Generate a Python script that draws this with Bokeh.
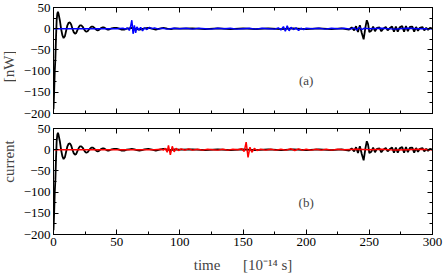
from bokeh.plotting import figure
from bokeh.layouts import column, row
from bokeh.models import Range1d, LinearAxis, SingleIntervalTicker, FixedTicker, Label
from bokeh.embed import file_html
from bokeh.resources import INLINE
import math

# ---- data ----
t_black = [0, 0.5, 1, 1.5, 2, 2.5, 3, 3.5, 4, 5, 6, 7, 8, 9, 10, 11, 12, 13, 14, 15,
           16, 17, 18, 19, 20, 21, 22, 23, 24, 25, 26, 27, 28, 29, 30, 31, 32, 33, 34,
           35, 36, 37, 38, 39, 40, 41, 42, 43, 44, 46, 48, 50, 52, 54, 56, 58, 60, 62,
           64, 66, 68, 70, 72, 75, 78, 81, 84, 87, 90, 93, 96, 100, 110, 120, 130, 140,
           150, 160, 170, 180, 190, 200, 210, 220, 228, 234, 236, 238, 239.5, 241,
           242.5, 244, 245.5, 247, 248, 249, 250, 251.5, 253, 254.5, 256, 258, 259.5,
           261, 263, 264.5, 266, 268, 269.5, 271, 272.5, 274, 276, 277.5, 279, 280.5,
           282, 284, 285.5, 287, 288.5, 290, 292, 293.5, 295, 296.5, 298, 300]
i_black = [-190, -150, -100, -70, -20, 20, 35, 40, 35, 20, 0, -15, -22, -18, -5, 8, 14, 15,
           10, 0, -8, -12, -10, -3, 4, 8, 8, 5, 0, -5, -7, -6, -2, 2, 5, 5, 3, 0, -3, -4,
           -3, 0, 2, 3, 3, 1, -1, -2, -2, 1, 2, 2, 0, -2, -2, 0, 1, 2, 1, -1, -2, -1, 1,
           2, 0, -2, 0, 2, 0, -1, 1, 0, 1, -1, 1, -1, 1, -1, 1, -1, 1, -1, 1, -1, 1, -2,
           3, -4, 6, -8, 8, -10, -25, 5, 20, 12, -8, -5, 5, -6, 2, 3, -6, 0, 4, -4, 1, 5,
           -7, 5, -7, 3, 6, -7, 6, -6, 4, 5, -7, 4, -5, 2, 4, -4, 2, -3, 2, 0]

t_blue = [0, 50, 55, 57, 58.5, 60, 61, 62, 63, 64, 65, 66, 67.5, 69, 70.5, 72, 74, 76, 78,
          80, 83, 86, 90, 95, 100, 105, 110, 115, 120, 125, 130, 135, 140, 145, 150, 155,
          160, 165, 170, 175, 178, 180, 182, 183.5, 185, 186.5, 188, 190, 192, 194, 196,
          198, 200, 205, 210, 215, 220, 225, 230, 235, 238, 240, 242, 244, 246, 250, 260,
          270, 280, 290, 300]
i_blue = [0, 0, 1, -1, 2, -4, 5, 20, -12, 8, -10, 4, -3, 3, -5, 2, -2, 3, 0, 2, -1, 1, -1,
          1, 0, 1, -1, 1, 0, -1, 1, 0, 1, -1, 0, 1, -1, 1, 0, -1, 2, -3, 5, -6, 7, -5, 3,
          -2, 2, -4, 1, -2, 1, 0, 1, -1, 1, 0, 1, -1, 2, -3, 3, -2, 1, 0, 1, -1, 1, 0, 0]

t_red = [0, 80, 85, 87, 88.5, 90, 91, 92.5, 94, 95.5, 97, 99, 101, 104, 107, 110, 114, 118,
         122, 126, 130, 134, 138, 142, 146, 149, 151, 152.5, 154, 155.5, 157, 159, 161,
         164, 168, 172, 176, 180, 184, 188, 191, 194, 197, 200, 204, 208, 212, 216, 220,
         225, 230, 240, 250, 260, 270, 280, 290, 300]
i_red = [0, 0, 1, -1, 3, -6, 10, -12, 8, -5, 3, -2, 2, -1, 2, -1, 1, -1, 1, 0, -1, 1, -1, 1,
         0, 2, -4, 18, -18, 6, -6, 3, -2, 1, -1, 1, -1, 1, -1, 2, -2, 2, -1, 1, -1, 1, -1,
         1, -1, 1, 0, 1, 0, 1, -1, 0, 1, 0]

x_label = "time\u00a0\u00a0\u00a0\u00a0\u00a0\u00a0[10\u207b\u00b9\u2074 s]"
y_label_words = ["current", "[nW]"]
panel_tags = ["(a)", "(b)"]

FONT = "Liberation Serif"
X_LO, X_HI, Y_LO, Y_HI = 0, 300, -200, 50


def base_axis(ax):
    ax.major_tick_out = 0
    ax.minor_tick_out = 0
    ax.axis_line_color = "black"
    ax.major_tick_line_color = "black"
    ax.minor_tick_line_color = "black"
    ax.major_label_text_font = FONT
    ax.major_label_text_color = "black"
    ax.major_label_text_font_size = "13px"
    ax.major_label_standoff = 3
    return ax


def labelled_axis():
    ax = LinearAxis(ticker=SingleIntervalTicker(interval=50, num_minor_ticks=2))
    base_axis(ax)
    ax.major_tick_in = 5
    ax.minor_tick_in = 3
    return ax


def bare_axes(lo, hi):
    # ticks only (drawn as minor ticks so no labels are produced)
    big = LinearAxis(ticker=FixedTicker(ticks=[], minor_ticks=list(range(lo, hi + 1, 50))))
    small = LinearAxis(ticker=FixedTicker(ticks=[], minor_ticks=list(range(lo + 25, hi, 50))))
    for ax, ln in ((big, 5), (small, 3)):
        base_axis(ax)
        ax.major_label_standoff = 0
        ax.minor_tick_in = ln
    return big, small


def make_panel(height, top, bottom, colour_t, colour_i, colour, tag, tag_y, show_x):
    p = figure(width=427, height=height, output_backend="svg", toolbar_location=None,
               x_range=Range1d(X_LO, X_HI), y_range=Range1d(Y_LO, Y_HI),
               x_axis_location=None, y_axis_location=None,
               min_border_left=37, min_border_right=11,
               min_border_top=top, min_border_bottom=bottom)
    p.xgrid.visible = False
    p.ygrid.visible = False
    p.outline_line_color = "black"
    p.outline_line_width = 1
    p.background_fill_color = "white"
    p.border_fill_color = "white"

    p.add_layout(labelled_axis(), "left")
    for ax in bare_axes(Y_LO, Y_HI):
        p.add_layout(ax, "right")
    for ax in bare_axes(X_LO, X_HI):
        p.add_layout(ax, "above")
    xb = None
    if show_x:
        xb = labelled_axis()
        p.add_layout(xb, "below")
    else:
        for ax in bare_axes(X_LO, X_HI):
            p.add_layout(ax, "below")

    p.line(t_black, i_black, line_color="black", line_width=1.8)
    p.line(colour_t, colour_i, line_color=colour, line_width=1.5)
    p.add_layout(Label(x=200, y=tag_y, text=tag, text_font=FONT, text_font_size="13px",
                       text_align="center", text_baseline="middle"))
    return p, xb


p1, _ = make_panel(120, 7, 7, t_blue, i_blue, "#0000ff", panel_tags[0], -121, False)
p2, xb = make_panel(159, 8, 45, t_red, i_red, "#ff0000", panel_tags[1], -124, True)

xb.axis_label = x_label
xb.axis_label_text_font = FONT
xb.axis_label_text_font_size = "15px"
xb.axis_label_text_font_style = "normal"
xb.axis_label_standoff = 8

# narrow strip carrying the rotated y-axis title (pixel-like coordinates, y downwards)
p0 = figure(width=16, height=279, output_backend="svg", toolbar_location=None,
            x_range=Range1d(0, 16), y_range=Range1d(279, 0),
            x_axis_location=None, y_axis_location=None,
            min_border=0, outline_line_color=None)
p0.xgrid.visible = False
p0.ygrid.visible = False
for word, ypos in zip(y_label_words, [161, 66]):
    p0.add_layout(Label(x=8.5, y=ypos, text=word, angle=math.pi / 2, text_font=FONT,
                        text_font_size="15px", text_align="center",
                        text_baseline="middle"))

layout = row(p0, column(p1, p2))
open("out.html", "w").write(file_html(layout, INLINE))
